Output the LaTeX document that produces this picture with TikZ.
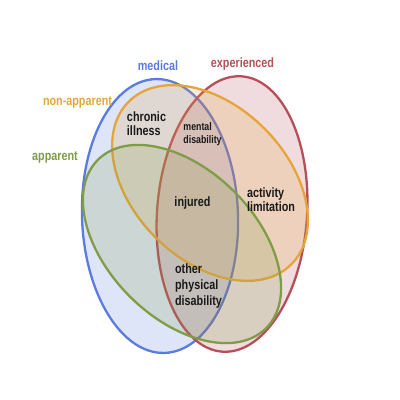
\documentclass[tikz,border=0pt]{standalone}
\usepackage{fontspec}
\setmainfont{Liberation Sans}
\newfontfamily\narrowsans[FakeStretch=0.8]{Liberation Sans}
\definecolor{medblue}{HTML}{5A7BE0}
\definecolor{exred}{HTML}{B5505A}
\definecolor{naorange}{HTML}{E5A53A}
\definecolor{apgreen}{HTML}{7F9D48}
\begin{document}
\begin{tikzpicture}[x=1pt, y=-1pt,
    set/.style={line width=2.3pt, fill opacity=0.2},
    title/.style={font=\narrowsans\fontsize{13.5}{14}\selectfont\bfseries},
    region/.style={font=\narrowsans\fontsize{13.5}{14}\selectfont\bfseries, align=left, text=black!90, inner sep=0pt}]
  \useasboundingbox (0,0) rectangle (400,400);

  % Sets
  \draw[set, draw=medblue, fill=medblue, rotate around={2:(160,216)}] (160,216) ellipse (78 and 137);
  \draw[set, draw=exred, fill=exred, rotate around={-4:(232,214)}] (232,214) ellipse (75 and 138);
  \draw[set, draw=naorange, fill=naorange, rotate around={-45:(210,183)}] (210,183) ellipse (115 and 77);
  \draw[set, draw=apgreen, fill=apgreen, rotate around={-45:(182,244)}] (182,244) ellipse (119 and 74);

  % Set names
  \node[title, text=medblue] (medical) at (158,66) {medical};
  \node[title, text=exred] (experienced) at (242.5,64) {experienced};
  \node[title, text=naorange] (nonapparent) at (77.5,102) {non-apparent};
  \node[title, text=apgreen] (apparent) at (55,157) {apparent};

  % Regions
  \node[region] (chronic) at (146.5,124) {chronic\\illness};
  \node[region, font=\narrowsans\fontsize{11}{12.5}\selectfont\bfseries] (mental) at (202.5,134) {mental\\disability};
  \node[region] (injured) at (192.5,203) {injured};
  \node[region] (activity) at (271,200) {activity\\limitation};
  \node[region, font=\narrowsans\fontsize{13.5}{16}\selectfont\bfseries] (physical) at (198.5,286) {other\\physical\\disability};
\end{tikzpicture}
\end{document}
